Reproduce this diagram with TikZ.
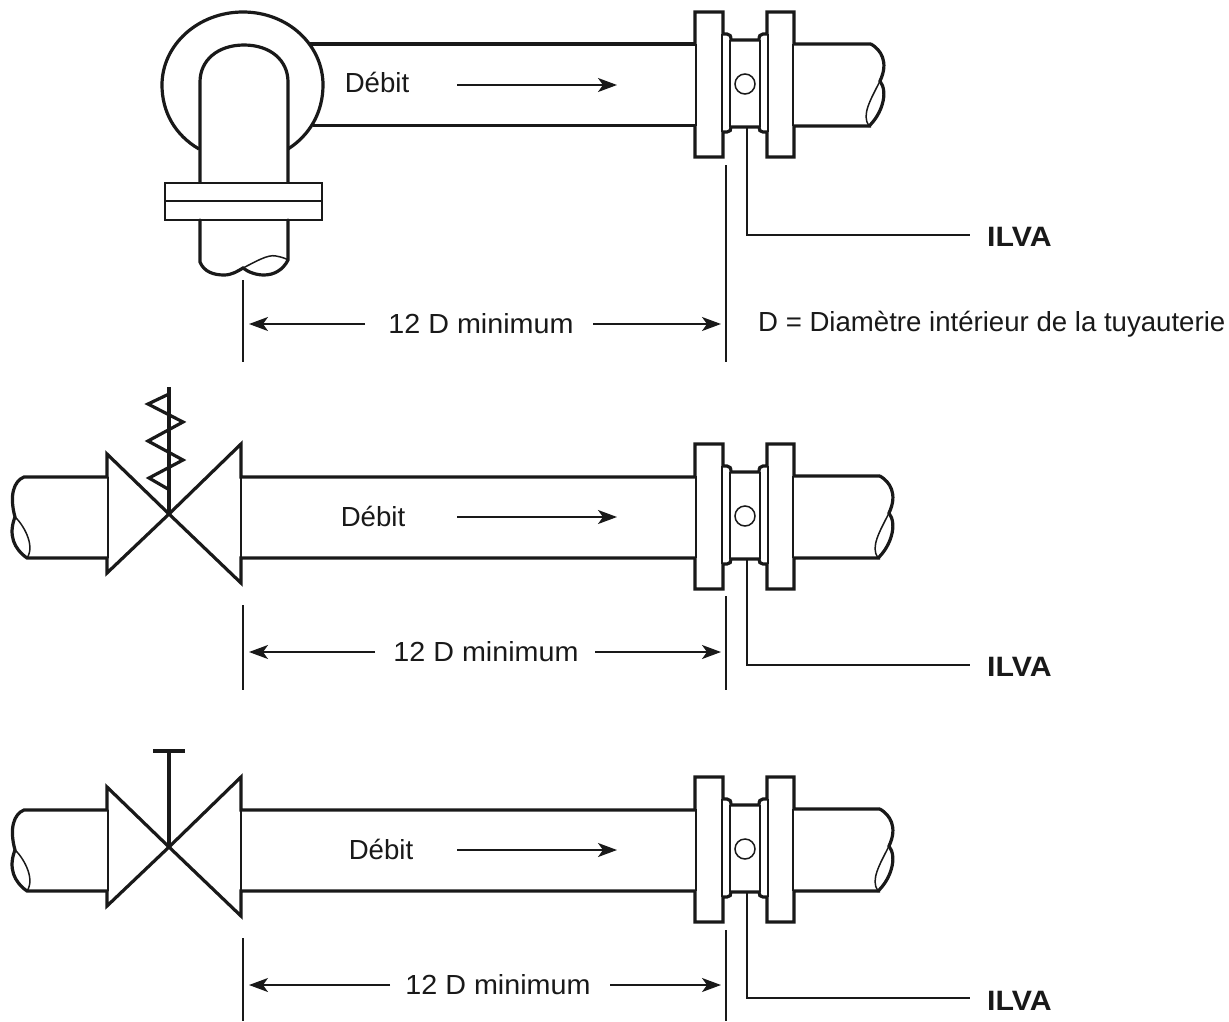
\documentclass[tikz,border=0pt]{standalone}
\usepackage{fontspec}
\setmainfont{Liberation Sans}
\newfontfamily\widefam[FakeStretch=1.04]{Liberation Sans}
\newfontfamily\tagfam[FakeStretch=1.08]{Liberation Sans Bold}
\usetikzlibrary{arrows.meta,calc}
\definecolor{ink}{RGB}{25,25,25}
\tikzset{
  thickline/.style={draw=ink,line width=3.2pt,line join=miter,line cap=butt},
  medline/.style={draw=ink,line width=2.2pt},
  thinline/.style={draw=ink,line width=1.5pt},
  extline/.style={draw=ink,line width=1.6pt},
  dimarrow/.style={draw=ink,line width=1.6pt,-{Stealth[length=19pt,width=14pt,inset=5pt]}},
  txt/.style={font=\fontsize{27.6}{32}\selectfont,text=ink,inner sep=0pt},
  dimtxt/.style={font=\widefam\fontsize{27.6}{32}\selectfont,text=ink,inner sep=0pt},
  tag/.style={font=\tagfam\fontsize{28}{32}\selectfont,text=ink,inner sep=0pt}
}
\newcommand{\meterunit}[3]{%
\begin{scope}[shift={(0,#2)}]
  \draw[thickline] (695,-41) -- (695,-73) -- (723,-73) -- (723,-51) -- (727,-51) .. controls (730,-51) and (731,-49) .. (731,-45) -- (759,-45)
     .. controls (759,-49) and (760,-51) .. (763,-51) -- (767,-51) -- (767,-73) -- (794,-73) -- (794,-41) -- (#3,-41);
  \draw[thickline] (695,41) -- (695,72) -- (723,72) -- (723,47) -- (727,47) .. controls (730,47) and (731,45) .. (731,42) -- (759,42)
     .. controls (759,45) and (760,47) .. (763,47) -- (767,47) -- (767,72) -- (794,72) -- (794,41) -- (#3,41);
  \draw[thinline] (696,-41) -- (696,41) (722,-51) -- (722,47) (730,-45) -- (730,42)
     (760,-45) -- (760,42) (768,-51) -- (768,47) (793,-41) -- (793,41);
  \node[draw=ink,line width=1.5pt,circle,minimum size=20pt,inner sep=0pt] (#1hole) at (745,-1) {};
  \draw[thickline,line cap=round] (#3,-41) .. controls ($(#3,-41)+(10,6)$) and ($(#3,-15)+(18,-8)$) .. ($(#3,-4)+(9,0)$)
     .. controls ($(#3,8)+(18,0)$) and ($(#3,30)+(10,0)$) .. ($(#3,41)+(-2,0)$);
  \draw[thinline] ($(#3,-4)+(9,0)$) .. controls ($(#3,8)+(0,6)$) and ($(#3,30)+(-10,0)$) .. ($(#3,41)+(-2,0)$);
\end{scope}}
\newcommand{\valvebody}[2]{%
\begin{scope}[shift={(0,#2)}]
  \coordinate (#1apex) at (169,-3);
  \draw[thickline] (107,-40) -- (107,-63) -- (#1apex) -- (241,-73) -- (241,-40) -- (695,-40);
  \draw[thickline] (107,41) -- (107,56) -- (#1apex) -- (241,66) -- (241,41) -- (695,41);
  \draw[thickline,line cap=round] (107,-40) -- (24,-40) .. controls (14,-36) and (9,-22) .. (15,0)
     .. controls (8,18) and (14,32) .. (27,41) -- (107,41);
  \draw[thinline] (15,0) .. controls (22,6) and (36,28) .. (27,41);
  \draw[thinline] (108,-40) -- (108,41) (241,-40) -- (241,41);
\end{scope}}
\newcommand{\dims}[9]{%
  \coordinate (#1ltop) at (243,#3); \coordinate (#1lbot) at (243,#5);
  \coordinate (#1rtop) at (726,#4); \coordinate (#1rbot) at (726,#5);
  \draw[extline] (#1ltop) -- (#1lbot);
  \draw[extline] (#1rtop) -- (#1rbot);
  \node[dimtxt] (#1dim) at (#6,#2) {12 D minimum};
  \coordinate (#1la) at (#7,#2); \coordinate (#1lb) at (249,#2);
  \coordinate (#1ra) at (#8,#2); \coordinate (#1rb) at (721,#2);
  \draw[dimarrow] (#1la) -- (#1lb);
  \draw[dimarrow] (#1ra) -- (#1rb);
  \coordinate (#1lead) at (747,#9);
}
\begin{document}
\begin{tikzpicture}[x=1pt,y=-1pt]
\useasboundingbox[fill=white] (0,0) rectangle (1229,1021);
% ---- row 1
\meterunit{a}{85}{871}
\draw[thickline] (310,44) -- (695,44) (313,125.5) -- (695,125.5);
\draw[thickline] (199,149) .. controls (175,135) and (162,112) .. (162,85)
   .. controls (162,45) and (198,12) .. (243,12)
   .. controls (288,12) and (323,45) .. (323,85)
   .. controls (323,112) and (310,135) .. (288,149);
\draw[thickline] (200,183) -- (200,82) .. controls (200,60) and (218,45) .. (244,45)
   .. controls (270,45) and (288,60) .. (288,82) -- (288,183);
\draw[thickline,line width=2.4pt] (165,183) rectangle (322,220);
\draw[medline] (165,201) -- (322,201);
\draw[thickline,line cap=round] (200,220) -- (200,262) .. controls (204,272) and (214,275) .. (224,275)
   .. controls (232,275) and (238,271) .. (243,268) .. controls (248,272) and (256,275) .. (264,275)
   .. controls (274,275) and (283,270) .. (288,260) -- (288,220);
\draw[thinline] (243,268) .. controls (255,262) and (268,254) .. (276,256) .. controls (281,257) and (285,258) .. (288,260);
\node[txt] (d1) at (377,82) {Débit};
\coordinate (f1a) at (457,85); \coordinate (f1b) at (617,85);
\draw[dimarrow] (f1a) -- (f1b);
\dims{a}{324}{280}{165}{362}{481}{365}{593}{128}
\coordinate (alc) at (747,235); \coordinate (ale) at (970,235);
\draw[extline] (alead) -- (alc) -- (ale);
\node[tag,anchor=west] (ia) at (987,237) {ILVA};
\node[txt,anchor=west] (note) at (758,324) {D = Diamètre intérieur de la tuyauterie};
% ---- row 2
\meterunit{b}{517}{880}
\valvebody{b}{517}
\draw[thickline] (bapex) -- (169,387);
\draw[thickline] (169,394) -- (148,404) -- (183,422) -- (148,441) -- (183,460) -- (149,478) -- (168,489);
\node[txt] (d2) at (373,516) {Débit};
\coordinate (f2a) at (457,517); \coordinate (f2b) at (617,517);
\draw[dimarrow] (f2a) -- (f2b);
\dims{b}{652}{605}{596}{690}{486}{375}{595}{560}
\coordinate (blc) at (747,665); \coordinate (ble) at (970,665);
\draw[extline] (blead) -- (blc) -- (ble);
\node[tag,anchor=west] (ib) at (987,667) {ILVA};
% ---- row 3
\meterunit{c}{850}{880}
\valvebody{c}{850}
\coordinate (ctop) at (169,751);
\draw[thickline] (capex) -- (ctop);
\draw[thickline] (153,751) -- (185,751);
\node[txt] (d3) at (381,849) {Débit};
\coordinate (f3a) at (457,850); \coordinate (f3b) at (617,850);
\draw[dimarrow] (f3a) -- (f3b);
\dims{c}{985}{938}{930}{1021}{498}{390}{610}{893}
\coordinate (clc) at (747,998); \coordinate (cle) at (970,998);
\draw[extline] (clead) -- (clc) -- (cle);
\node[tag,anchor=west] (ic) at (987,1001) {ILVA};
\end{tikzpicture}
\end{document}
